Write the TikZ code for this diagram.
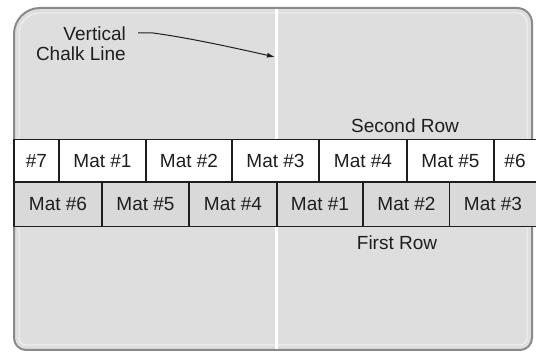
\documentclass[tikz,border=0pt]{standalone}
\usepackage{fontspec}
\setmainfont{Liberation Sans}
\usetikzlibrary{arrows.meta}
\definecolor{panelfill}{HTML}{DEDEDE}
\definecolor{paneledge}{HTML}{8A8A8A}
\definecolor{matgrey}{HTML}{D9D9D9}
\definecolor{ink}{HTML}{1E1E1E}
\tikzset{
  lbl/.style={font=\fontsize{19}{21}\selectfont, text=ink, inner sep=0pt},
  mat/.style={draw=ink, line width=1.6pt, rectangle, inner sep=0pt,
              font=\fontsize{19}{21}\selectfont, text=ink},
  toprow/.style={mat, fill=white, minimum height=42.5pt},
  lowrow/.style={mat, fill=matgrey, minimum height=44.5pt},
}
\begin{document}
\begin{tikzpicture}[x=1pt,y=-1pt]
\useasboundingbox (0,0) rectangle (536,352);
\fill[white] (0,0) rectangle (536,352);
\begin{scope}
\clip (0,0) rectangle (536,352);
% floor panel with rounded corners
\draw[fill=panelfill, draw=paneledge, line width=2pt]
  (14,338) -- (14,34) .. controls (14,19.6) and (25.6,8) .. (40,8)
  -- (517,8) .. controls (525.3,8) and (532,14.7) .. (532,23)
  -- (532,338) .. controls (532,344.6) and (526.6,350) .. (520,350)
  -- (26,350) .. controls (19.4,350) and (14,344.6) .. (14,338) -- cycle;
% inner highlight along the panel edge
\draw[white, opacity=0.6, line width=1pt]
  (19,338) -- (19,34) .. controls (19,22.4) and (28.4,13) .. (40,13)
  -- (517,13) .. controls (522.5,13) and (527,17.5) .. (527,23)
  -- (527,338) .. controls (527,341.9) and (523.9,345) .. (520,345)
  -- (26,345) .. controls (22.1,345) and (19,341.9) .. (19,338) -- cycle;
% vertical chalk line
\coordinate (chalktop) at (276,9);
\coordinate (chalkbot) at (276,349);
\draw[white, line width=3pt] (chalktop) -- (chalkbot);

% second row of mats
\node[toprow, minimum width=45pt] (s7) at (36.5,160.75) {\#7};
\node[toprow, minimum width=87pt] (s1) at (102.5,160.75) {Mat \#1};
\node[toprow, minimum width=86pt] (s2) at (189,160.75) {Mat \#2};
\node[toprow, minimum width=87pt] (s3) at (275.5,160.75) {Mat \#3};
\node[toprow, minimum width=88pt] (s4) at (363,160.75) {Mat \#4};
\node[toprow, minimum width=87pt] (s5) at (450.5,160.75) {Mat \#5};
\node[toprow, minimum width=50pt] (s6) at (519,160.75) {\hspace*{-8pt}\#6};

% first row of mats
\node[lowrow, minimum width=88pt] (f6) at (58,204.25) {Mat \#6};
\node[lowrow, minimum width=87pt] (f5) at (145.5,204.25) {Mat \#5};
\node[lowrow, minimum width=88pt] (f4) at (233,204.25) {Mat \#4};
\node[lowrow, minimum width=86pt] (f1) at (320,204.25) {Mat \#1};
\node[lowrow, minimum width=87pt] (f2) at (406.5,204.25) {Mat \#2};
\node[lowrow, minimum width=95pt] (f3) at (497,204.25) {\hspace*{-8pt}Mat \#3};
\end{scope}

% row labels
\node[lbl] (secondrow) at (405,126) {Second Row};
\node[lbl] (firstrow) at (397,243) {First Row};

% chalk line callout
\node[lbl, align=right, anchor=east] (chalk) at (126,44)
  {Vertical\\[-1pt]Chalk Line};
\coordinate (tip) at (275,57);
\draw[ink, line width=1pt, -{Latex[length=8pt,width=5pt]}]
  ([xshift=12pt]chalk.north east |- 0,33) -- (153,33)
  .. controls (190,38) and (235,48) .. (tip);
\end{tikzpicture}
\end{document}
